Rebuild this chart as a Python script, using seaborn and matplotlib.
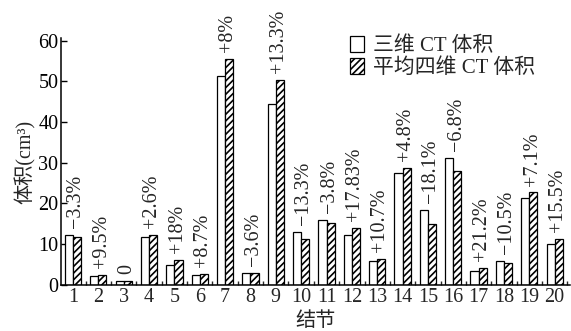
import pandas as pd
import seaborn as sns
import matplotlib
matplotlib.use("Agg")
import matplotlib.pyplot as plt
from matplotlib.ticker import MultipleLocator, FixedLocator

# 结节编号与体积数据 (cm³)
nodes = [str(i) for i in range(1, 21)]
vol_3d = [12.2, 2.2, 0.9, 11.8, 5.0, 2.4, 51.4, 3.0, 44.5, 13.1,
          15.9, 12.2, 5.9, 27.5, 18.4, 31.2, 3.5, 5.9, 21.3, 10.0]
vol_4d = [11.8, 2.4, 0.9, 12.2, 6.1, 2.6, 55.5, 3.0, 50.4, 11.4,
          15.3, 14.0, 6.4, 28.8, 15.0, 28.0, 4.2, 5.3, 22.7, 11.4]
diff_labels = ["−3.3%", "+9.5%", "0", "+2.6%", "+18%", "+8.7%", "+8%", "−3.6%",
               "+13.3%", "−13.3%", "−3.8%", "+17.83%", "+10.7%", "+4.8%",
               "−18.1%", "−6.8%", "+21.2%", "−10.5%", "+7.1%", "+15.5%"]
series = ["三维 CT 体积", "平均四维 CT 体积"]

df = pd.DataFrame({
    "结节": nodes * 2,
    "体积": vol_3d + vol_4d,
    "类型": [series[0]] * 20 + [series[1]] * 20,
})

sns.set_theme(style="ticks")
plt.rcParams["font.family"] = ["Liberation Serif", "Noto Sans CJK SC"]
plt.rcParams["hatch.linewidth"] = 1.2
plt.rcParams["axes.unicode_minus"] = True

fig = plt.figure(figsize=(5.71, 3.31), dpi=100)
ax = fig.add_axes([0.107, 0.139, 0.891, 0.746])

sns.barplot(data=df, x="结节", y="体积", hue="类型", palette=["white", "white"],
            edgecolor="black", linewidth=0.9, width=0.64, gap=0, ax=ax, legend=False)

for bar in ax.containers[1]:
    bar.set_hatch("/////")

# 差异百分比标注
for i, lab in enumerate(diff_labels):
    top = max(vol_3d[i], vol_4d[i])
    ax.annotate(lab, (i, top), xytext=(2, 5), textcoords="offset points",
                rotation=90, ha="center", va="bottom", fontsize=14.5)

ax.set_ylim(0, 60.6)
ax.set_xlim(-0.47, 19.6)
ax.yaxis.set_major_locator(MultipleLocator(10))
ax.xaxis.set_minor_locator(FixedLocator([i + 0.5 for i in range(20)]))
ax.tick_params(axis="y", direction="in", length=4, width=1, labelsize=14.5, pad=2, colors="black")
ax.tick_params(axis="x", which="major", length=0, labelsize=14.5, pad=2)
ax.tick_params(axis="x", which="minor", direction="in", length=3, width=1)
for s in ["top", "right"]:
    ax.spines[s].set_visible(False)
for s in ["left", "bottom"]:
    ax.spines[s].set_linewidth(1.1)
    ax.spines[s].set_color("black")

ax.set_xlabel("结节", fontsize=14.5, labelpad=4)
ax.set_ylabel("体积(cm³)", fontsize=14.5, labelpad=2)

ax.legend(handles=[ax.containers[0][0], ax.containers[1][0]], labels=series,
          loc="upper left", bbox_to_anchor=(0.613, 0.89), bbox_transform=fig.transFigure,
          frameon=False, fontsize=15, handlelength=0.65, handleheight=0.75,
          handletextpad=0.45, labelspacing=0.1, borderaxespad=0, borderpad=0)

fig.savefig("out.png", dpi=100)
